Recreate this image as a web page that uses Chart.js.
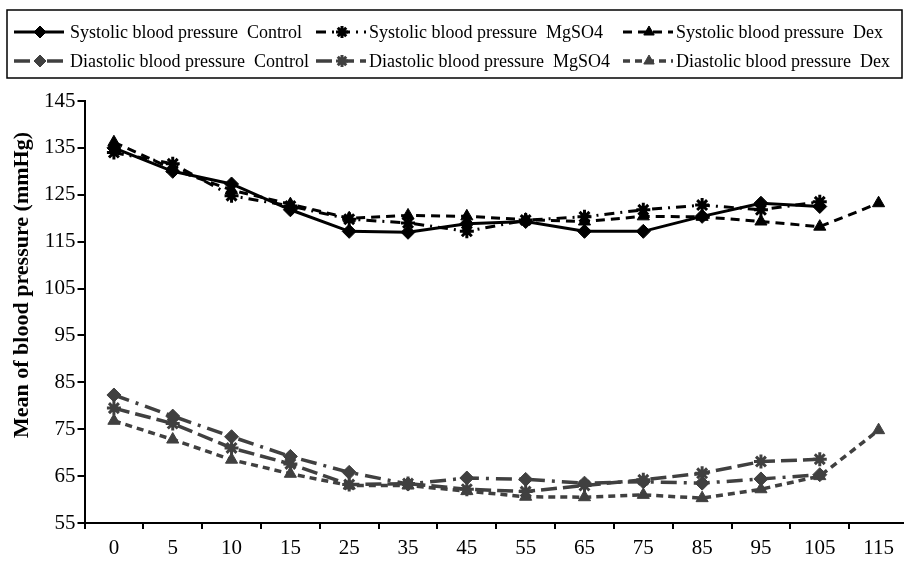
<!DOCTYPE html>
<html>
<head>
<meta charset="utf-8">
<script src="https://cdn.jsdelivr.net/npm/chart.js"></script>
<style>
  html,body{margin:0;padding:0;background:#fff;overflow:hidden;}
  #wrap{width:918px;height:561px;position:relative;}
</style>
</head>
<body>
<div id="wrap"><canvas id="bp"></canvas></div>
<script>
const timeLabels=["0","5","10","15","25","35","45","55","65","75","85","95","105","115"];

const sysControl=[135,130,127.3,121.8,117.2,117,118.8,119.3,117.2,117.2,120.4,123.2,122.5,null];
const sysMg=[134,131.6,124.8,122.6,119.8,119,117.2,119.6,120.3,121.8,122.8,121.8,123.5,null];
const sysDex=[136.2,130.5,126,123,120,120.6,120.4,119.7,119.3,120.4,120.3,119.3,118.2,123.2];

const diaControl=[82.3,77.8,73.4,69.2,65.8,63.3,64.6,64.3,63.5,63.8,63.5,64.4,65.3,null];
const diaMg=[79.5,76.2,71,67.6,63.2,63.4,62.2,61.7,63,64.2,65.6,68.1,68.6,null];
const diaDex=[76.8,72.8,68.5,65.5,63,63,61.8,60.6,60.5,61,60.3,62.2,65,74.8];

const BLACK="#000000", GREY="#404040";
const SERIF="'Liberation Serif','Times New Roman',serif";
const yTitle="Mean of blood pressure (mmHg)";

function series(label,data,color,dash,style,width){
  return {
    label:label,data:data,borderColor:color,backgroundColor:color,
    borderWidth:width,borderDash:dash,pointStyle:style,
    pointRadius:7,pointBorderWidth:style==="star"?3:1,
    pointBorderColor:color,pointBackgroundColor:color,
    tension:0,fill:false
  };
}

const datasets=[
  series("Systolic blood pressure  Control",sysControl,BLACK,[],"rectRot",3),
  series("Systolic blood pressure  MgSO4",sysMg,BLACK,[10,6,2,6],"star",3),
  series("Systolic blood pressure  Dex",sysDex,BLACK,[9,6],"triangle",3),
  series("Diastolic blood pressure  Control",diaControl,GREY,[16,7,3,7],"rectRot",3.5),
  series("Diastolic blood pressure  MgSO4",diaMg,GREY,[16,6],"star",3.5),
  series("Diastolic blood pressure  Dex",diaDex,GREY,[7,5],"triangle",3.5)
];

// legend box (two rows of three) and the y title, placed like the original
const boxLegend={
  id:"boxLegend",
  afterDraw(chart){
    const ctx=chart.ctx;
    const cols=[14,316,623], rows=[32,61];
    ctx.save();
    ctx.strokeStyle="#000";
    ctx.lineWidth=1.5;
    ctx.strokeRect(7,10,895,68);
    chart.data.datasets.forEach((ds,i)=>{
      const x=cols[i%3], y=rows[Math.floor(i/3)];
      ctx.save();
      ctx.strokeStyle=ds.borderColor;
      ctx.fillStyle=ds.borderColor;
      ctx.lineWidth=ds.borderWidth;
      ctx.setLineDash(ds.borderDash);
      ctx.beginPath();
      ctx.moveTo(x,y);ctx.lineTo(x+50,y);
      ctx.stroke();
      ctx.setLineDash([]);
      ctx.lineWidth=ds.pointBorderWidth;
      Chart.helpers.drawPoint(ctx,{pointStyle:ds.pointStyle,radius:6,rotation:0,borderWidth:ds.pointBorderWidth},x+26,y);
      ctx.restore();
      ctx.fillStyle="#000";
      ctx.font="18px "+SERIF;
      ctx.textBaseline="middle";
      ctx.fillText(ds.label,x+(i%3===0?56:53),y+1);
    });
    ctx.translate(22,285);
    ctx.rotate(-Math.PI/2);
    ctx.font="bold 22px "+SERIF;
    ctx.textAlign="center";
    ctx.textBaseline="middle";
    ctx.fillStyle="#000";
    ctx.fillText(yTitle,0,0);
    ctx.restore();
  }
};

new Chart(document.getElementById("bp"),{
  type:"line",
  data:{labels:timeLabels,datasets:datasets},
  options:{
    responsive:true,
    maintainAspectRatio:false,
    animation:false,
    layout:{padding:{top:101,right:0,left:42,bottom:-7}},
    plugins:{legend:{display:false},tooltip:{enabled:false}},
    scales:{
      x:{
        type:"category",
        offset:true,
        grid:{offset:true,drawOnChartArea:false,drawTicks:true,tickLength:6,color:"#000",lineWidth:2},
        border:{display:true,color:"#000",width:2},
        ticks:{color:"#000",font:{family:SERIF,size:21,lineHeight:1},padding:9,maxRotation:0,autoSkip:false}
      },
      y:{
        min:55,max:145,
        grid:{drawOnChartArea:false,drawTicks:true,tickLength:7,color:"#000",lineWidth:2},
        border:{display:true,color:"#000",width:2},
        ticks:{stepSize:10,color:"#000",font:{family:SERIF,size:21},padding:2}
      }
    }
  },
  plugins:[boxLegend]
});
</script>
</body>
</html>
